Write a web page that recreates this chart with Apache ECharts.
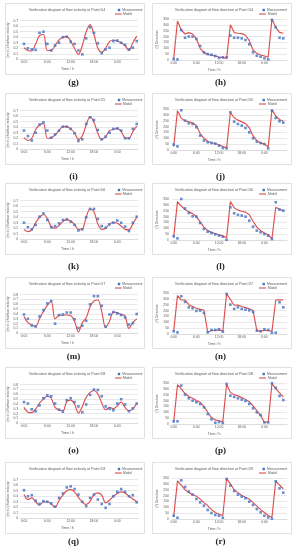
<!DOCTYPE html>
<html><head><meta charset="utf-8">
<script src="https://cdn.jsdelivr.net/npm/echarts@6/dist/echarts.min.js"></script>
<style>html,body{margin:0;padding:0;background:#fff}#c{width:294px;height:550px}</style>
</head><body><div id="c"></div>
<script>
// ---------------- data ----------------
const hours = [0,1,2,3,4,5,6,7,8,9,10,11,12,13,14,15,16,17,18,19,20,21,22,23,24,25,26,27,28,29];
const xTickHours = [0,6,12,18,24];
const xTickLabels = ['0:00','6:00','12:00','18:00','0:00'];
const pointNames = ['D4','D5','D6','D7','D8','D9'];
const velLabels = ['(g)','(i)','(k)','(m)','(o)','(q)'];
const dirLabels = ['(h)','(j)','(l)','(n)','(p)','(r)'];
const velAxisMax = [0.7,0.7,0.7,0.8,0.8,0.7];
const dirAxisMax = 350;

const velMeasD4 = [0.28,0.20,0.18,0.17,0.48,0.50,0.28,0.16,0.25,0.30,0.40,0.41,0.32,0.28,0.16,0.09,0.38,0.58,0.48,0.29,0.11,0.18,0.21,0.33,0.34,0.30,0.26,0.18,0.21,0.33];
const velModelD4 = [0.21,0.16,0.15,0.28,0.43,0.45,0.16,0.16,0.25,0.35,0.40,0.41,0.33,0.20,0.09,0.25,0.50,0.63,0.45,0.20,0.13,0.20,0.32,0.35,0.33,0.30,0.25,0.16,0.30,0.42];
const velMeasD5 = [0.34,0.24,0.16,0.30,0.45,0.49,0.34,0.21,0.27,0.34,0.41,0.41,0.37,0.29,0.15,0.18,0.46,0.58,0.53,0.35,0.18,0.23,0.30,0.37,0.38,0.34,0.20,0.20,0.37,0.46];
const velModelD5 = [0.21,0.16,0.20,0.36,0.44,0.47,0.20,0.21,0.26,0.34,0.41,0.41,0.37,0.30,0.18,0.24,0.44,0.59,0.49,0.29,0.18,0.23,0.34,0.36,0.38,0.32,0.21,0.20,0.32,0.42];
const velMeasD6 = [0.30,0.22,0.18,0.26,0.41,0.47,0.35,0.22,0.24,0.29,0.35,0.36,0.32,0.26,0.16,0.18,0.40,0.55,0.55,0.37,0.24,0.21,0.27,0.30,0.34,0.30,0.23,0.15,0.30,0.41];
const velModelD6 = [0.18,0.14,0.17,0.30,0.40,0.45,0.38,0.23,0.20,0.25,0.32,0.36,0.33,0.27,0.18,0.19,0.40,0.55,0.50,0.28,0.18,0.20,0.28,0.31,0.29,0.24,0.18,0.17,0.28,0.40];
const velMeasD7 = [0.39,0.30,0.16,0.14,0.35,0.48,0.62,0.67,0.20,0.38,0.39,0.43,0.43,0.29,0.11,0.16,0.26,0.60,0.77,0.77,0.57,0.14,0.39,0.44,0.41,0.38,0.33,0.18,0.21,0.40];
const velModelD7 = [0.35,0.22,0.17,0.15,0.30,0.45,0.58,0.66,0.30,0.37,0.38,0.38,0.37,0.25,0.03,0.22,0.32,0.55,0.67,0.69,0.45,0.12,0.25,0.44,0.43,0.39,0.36,0.10,0.22,0.30];
const velMeasD8 = [0.44,0.41,0.29,0.25,0.37,0.52,0.58,0.56,0.41,0.28,0.24,0.48,0.52,0.44,0.35,0.23,0.39,0.59,0.70,0.69,0.56,0.35,0.30,0.27,0.41,0.50,0.39,0.25,0.31,0.41];
const velModelD8 = [0.33,0.23,0.22,0.30,0.42,0.50,0.56,0.52,0.33,0.28,0.26,0.45,0.48,0.40,0.21,0.35,0.54,0.64,0.68,0.61,0.42,0.28,0.33,0.30,0.36,0.44,0.33,0.26,0.30,0.41];
const velMeasD9 = [0.51,0.40,0.42,0.32,0.26,0.31,0.30,0.27,0.21,0.37,0.45,0.56,0.58,0.53,0.43,0.30,0.22,0.37,0.43,0.34,0.26,0.19,0.26,0.40,0.48,0.53,0.48,0.40,0.42,0.29];
const velModelD9 = [0.43,0.34,0.37,0.30,0.24,0.30,0.30,0.26,0.20,0.32,0.42,0.50,0.52,0.48,0.38,0.29,0.25,0.31,0.43,0.46,0.42,0.28,0.33,0.40,0.45,0.48,0.46,0.40,0.35,0.30];

const dirMeasD4 = [8,5,256,190,200,200,180,120,65,51,45,34,17,23,23,208,190,190,185,171,134,65,37,28,14,5,342,279,190,185];
const dirModelD4 = [10,333,256,222,234,222,180,100,63,48,40,34,26,20,14,300,234,228,225,211,165,85,57,43,34,23,350,279,236,228];
const dirMeasD5 = [46,31,339,251,228,222,194,123,80,66,60,54,37,17,14,322,242,222,208,188,151,100,71,60,51,14,335,274,245,234];
const dirModelD5 = [30,336,270,250,240,232,210,140,100,75,62,55,45,30,20,320,275,255,240,225,190,120,80,60,50,25,345,290,260,245];
const dirMeasD6 = [31,14,350,270,231,202,199,145,94,71,60,48,37,28,2,279,228,214,208,199,165,114,80,66,51,37,8,322,260,250];
const dirModelD6 = [25,328,290,260,240,225,200,155,110,80,65,55,45,35,20,328,275,255,245,238,215,160,110,80,60,45,12,280,262,252];
const dirMeasD7 = [23,14,322,274,228,219,197,200,179,14,34,34,40,20,342,251,214,228,214,208,202,188,28,23,40,34,11,11,271,228];
const dirModelD7 = [25,328,290,290,250,235,220,210,205,15,30,30,35,25,345,295,245,248,235,225,215,200,30,25,30,30,25,290,292,290];
const dirMeasD8 = [23,23,328,251,219,199,185,171,142,85,40,11,17,9,342,242,231,219,208,197,171,134,100,77,14,14,348,308,239,205];
const dirModelD8 = [15,335,300,260,235,220,200,185,150,100,55,35,28,20,340,270,250,240,225,210,190,155,115,70,15,15,345,305,265,230];
const dirMeasD9 = [28,11,330,274,234,208,171,142,114,77,51,34,28,11,342,285,239,208,191,177,148,120,85,57,28,14,3,322,262,225];
const dirModelD9 = [20,325,290,250,225,210,195,170,140,115,80,55,40,30,345,300,250,225,200,185,170,140,110,80,55,30,15,325,290,258];

const velMeas = [velMeasD4,velMeasD5,velMeasD6,velMeasD7,velMeasD8,velMeasD9];
const velModel = [velModelD4,velModelD5,velModelD6,velModelD7,velModelD8,velModelD9];
const dirMeas = [dirMeasD4,dirMeasD5,dirMeasD6,dirMeasD7,dirMeasD8,dirMeasD9];
const dirModel = [dirModelD4,dirModelD5,dirModelD6,dirModelD7,dirModelD8,dirModelD9];

// ---------------- layout ----------------
const rowTops = [3,93,183,277,367,462];
const labelYs = [83,177,267,357,451,542];
const colLefts = [5,152];
const boxW = 139, boxH = 71;
const BLUE = '#4472c4', RED = '#dc4f4f', TXT = '#595959', GRID = '#d9d9d9';
const FONT = 'Liberation Sans';

const grids = [], xAxes = [], yAxes = [], series = [], titles = [], graphics = [];

function addPanel(kind, row) {
  const col = kind === 'vel' ? 0 : 1;
  const bx = colLefts[col], by = rowTops[row];
  const idx = grids.length;
  const isVel = kind === 'vel';
  const gl = isVel ? 15 : 20, gw = isVel ? 118 : 115;
  const gt = isVel ? 17.7 : 16, gh = isVel ? 38.6 : 41;
  grids.push({left: bx + gl, top: by + gt, width: gw, height: gh, containLabel: false});
  xAxes.push({
    type: 'value', gridIndex: idx,
    min: isVel ? -1.03 : -0.45, max: isVel ? 29.33 : 29.98,
    axisLine: {show: true, lineStyle: {color: GRID, width: 0.8}},
    axisTick: {show: false}, splitLine: {show: false},
    axisLabel: {
      customValues: xTickHours, showMinLabel: true, showMaxLabel: true,
      formatter: v => xTickLabels[xTickHours.indexOf(Math.round(v))] || '',
      fontSize: 3.4, color: TXT, fontFamily: FONT, margin: 1.6
    },
    name: 'Time / h', nameLocation: 'middle', nameGap: 8,
    nameTextStyle: {fontSize: 3.6, color: TXT, fontFamily: FONT, padding: [0, isVel ? 23 : 31, 0, 0]}
  });
  const ymax = isVel ? velAxisMax[row] : dirAxisMax;
  yAxes.push({
    type: 'value', gridIndex: idx, min: 0, max: ymax, interval: isVel ? 0.1 : 50,
    axisLine: {show: false}, axisTick: {show: false},
    splitLine: {show: true, lineStyle: {color: GRID, width: 0.6}},
    axisLabel: {
      fontSize: 3.4, color: TXT, fontFamily: FONT, margin: isVel ? 1.8 : 3,
      formatter: v => isVel ? (v === 0 ? '0' : v.toFixed(1)) : String(v)
    },
    name: isVel ? '(m·s⁻¹) Surface velocity' : '(°) Direction',
    nameLocation: 'middle', nameRotate: 90, nameGap: isVel ? 9.2 : 13,
    nameTextStyle: {fontSize: 3.4, color: TXT, fontFamily: FONT}
  });
  const meas = isVel ? velMeas[row] : dirMeas[row];
  const model = isVel ? velModel[row] : dirModel[row];
  series.push({
    type: 'line', name: 'Model', xAxisIndex: idx, yAxisIndex: idx,
    data: model.map((v, k) => [hours[k], v]),
    smooth: isVel ? 0.35 : false, symbol: 'none', showSymbol: false,
    lineStyle: {color: RED, width: 1.15}, itemStyle: {color: RED}, z: 2, silent: true
  });
  series.push({
    type: 'scatter', name: 'Measurement', xAxisIndex: idx, yAxisIndex: idx,
    data: meas.map((v, k) => [hours[k], v]),
    symbol: 'rect', symbolSize: 2.6, itemStyle: {color: BLUE}, z: 3, silent: true
  });
  // chart title
  titles.push({
    text: 'Verification diagram of flow ' + (isVel ? 'velocity' : 'direction') + ' at Point ' + pointNames[row],
    left: bx + 62, top: by + 7.3, textAlign: 'center', textVerticalAlign: 'middle', padding: 0,
    textStyle: {fontSize: 3.7, fontWeight: 'normal', color: TXT, fontFamily: FONT}
  });
  // panel letter
  titles.push({
    text: isVel ? velLabels[row] : dirLabels[row],
    left: bx + 68.5, top: labelYs[row], textAlign: 'center', textVerticalAlign: 'middle', padding: 0,
    textStyle: {fontSize: 9, fontWeight: 'bold', color: '#222', fontFamily: 'Liberation Serif'}
  });
  // chart frame
  graphics.push({type: 'rect', silent: true, z: -10,
    shape: {x: bx + 0.5, y: by + 0.5, width: boxW, height: boxH},
    style: {fill: 'none', stroke: GRID, lineWidth: 0.8}});
  // legend
  const mx = isVel ? 114 : 111.7, tx = isVel ? 117.3 : 115;
  const lx1 = isVel ? 110 : 107, lx2 = isVel ? 116.7 : 114, tx2 = isVel ? 118 : 116;
  graphics.push({type: 'rect', silent: true, shape: {x: bx + mx - 1.2, y: by + 7 - 1.2, width: 2.4, height: 2.4}, style: {fill: BLUE}});
  graphics.push({type: 'text', silent: true, style: {x: bx + tx, y: by + 7, text: 'Measurement', fontSize: 3.3, fontFamily: FONT, fill: TXT, align: 'left', verticalAlign: 'middle'}});
  graphics.push({type: 'line', silent: true, shape: {x1: bx + lx1, y1: by + 11, x2: bx + lx2, y2: by + 11}, style: {stroke: RED, lineWidth: 1.1}});
  graphics.push({type: 'text', silent: true, style: {x: bx + tx2, y: by + 11, text: 'Model', fontSize: 3.3, fontFamily: FONT, fill: TXT, align: 'left', verticalAlign: 'middle'}});
}

for (let r = 0; r < 6; r++) { addPanel('vel', r); addPanel('dir', r); }

const chart = echarts.init(document.getElementById('c'), null, {renderer: 'canvas'});
chart.setOption({
  animation: false, backgroundColor: '#ffffff',
  title: titles, grid: grids, xAxis: xAxes, yAxis: yAxes, series: series,
  graphic: {elements: graphics}
});
</script></body></html>
